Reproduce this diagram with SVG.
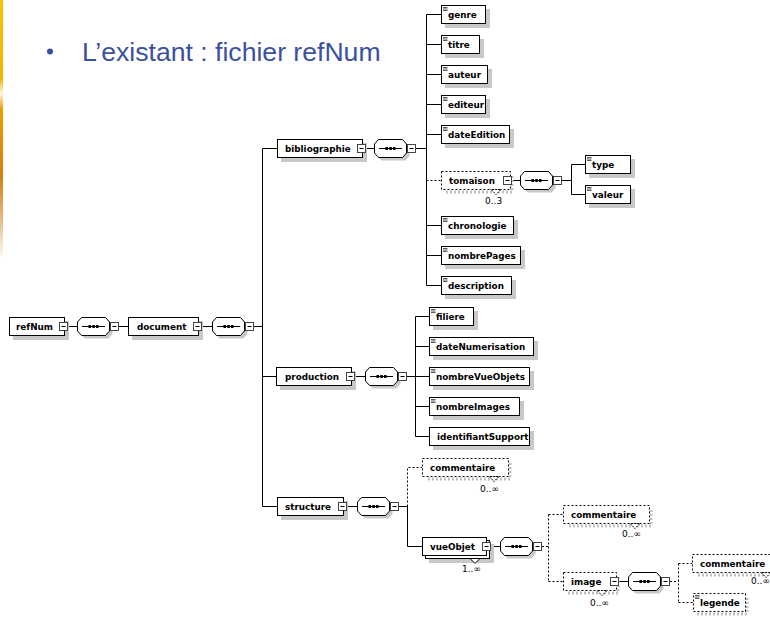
<svg xmlns="http://www.w3.org/2000/svg" xmlns:xlink="http://www.w3.org/1999/xlink" width="770" height="618" viewBox="0 0 770 618">
<defs>
<style>
.b{fill:#fff;stroke:#000}
.o{fill:#fff;stroke:#000;stroke-dasharray:2 2}
.s{fill:#c8c8c8}
.os{fill:none;stroke:#c0c0c0;stroke-width:3;stroke-dasharray:2 2}
.t{font-family:"DejaVu Sans","Liberation Sans",sans-serif;font-weight:bold;font-size:8.8px;fill:#000}
.n{font-family:"DejaVu Sans","Liberation Sans",sans-serif;font-size:9px;fill:#000}
.c{stroke:#000;fill:none}
.d{stroke-dasharray:2 2}
.mb{fill:#fff;stroke:#444}
.ic{stroke:#333;stroke-width:0.8;fill:none}
.nv{fill:#fff;stroke:#000}
.nvd{fill:#fff;stroke:#000;stroke-dasharray:2 1}
.title{font-family:"Liberation Sans",Arial,sans-serif;font-size:26.6px;fill:#3C50A0}
</style>
<linearGradient id="stripe" x1="0" y1="0" x2="0" y2="1">
<stop offset="0" stop-color="#F7C400"/>
<stop offset="0.3" stop-color="#F2B400"/>
<stop offset="0.36" stop-color="#FFF6DC"/>
<stop offset="0.42" stop-color="#EBA000"/>
<stop offset="0.68" stop-color="#D48010"/>
<stop offset="0.86" stop-color="#EBC090"/>
<stop offset="1" stop-color="#FFFFFF"/>
</linearGradient>
<g id="mn"><rect class="mb" x="0.5" y="-4" width="8" height="8"/><path class="c" d="M2.5 0H6.5"/></g>
<g id="sq"><polygon class="s" transform="translate(3,3)" points="0.5,-4.5 4.5,-9 28.5,-9 32.5,-4.5 32.5,4.5 28.5,9 4.5,9 0.5,4.5"/><polygon class="b" points="0.5,-4.5 4.5,-9 28.5,-9 32.5,-4.5 32.5,4.5 28.5,9 4.5,9 0.5,4.5"/><path class="c" d="M5 0H28"/><rect x="11.5" y="-1.5" width="2.5" height="3"/><rect x="15.3" y="-1.5" width="2.5" height="3"/><rect x="19" y="-1.5" width="2.5" height="3"/></g>
<path id="ic" class="ic" d="M2 -7H6.5M2 -5.5H6.5M2 -4H6.5"/>
</defs>
<rect width="770" height="618" fill="#fff"/>
<rect x="0" y="0" width="3" height="260" fill="url(#stripe)"/>
<g id="title">
<circle cx="50" cy="51.5" r="3" fill="#3C50A0"/>
<text class="title" x="82" y="61">L’existant : fichier refNum</text>
</g>
<g id="connectors">
<path class="c" d="M68 326.5H77M119 326.5H128M202 326.5H212M254 326.5H262.5"/>
<path class="c" d="M262.5 148.5V506.5M262.5 148.5H277M262.5 376.5H276M262.5 506.5H277"/>
<path class="c" d="M366 148.5H374M416 148.5H426.5M426.5 14.5V285.5"/>
<path class="c" d="M426.5 14.5H441M426.5 44.5H441M426.5 74.5H441M426.5 104.5H441M426.5 134.5H441M426.5 225.5H441M426.5 255.5H441M426.5 285.5H441"/>
<path class="c d" d="M426.5 180.5H441"/>
<path class="c" d="M512 180.5H520M562 180.5H571.5M571.5 164.5V194.5M571.5 164.5H585M571.5 194.5H585"/>
<path class="c" d="M355 376.5H365M407 376.5H415.5M415.5 316.5V436.5M415.5 316.5H429M415.5 346.5H429M415.5 376.5H429M415.5 406.5H429M415.5 436.5H429"/>
<path class="c" d="M347 506.5H357M399 506.5H407.5M407.5 506.5V546.5M407.5 546.5H422"/>
<path class="c d" d="M407.5 506.5V467.5H422"/>
<path class="c" d="M491 546.5H500"/>
<path class="c d" d="M542 546.5H548.5M548.5 514.5V581.5M548.5 514.5H563M548.5 581.5H563"/>
<path class="c" d="M619 581.5H628"/>
<path class="c d" d="M670 581.5H678.5M678.5 563.5V602.5M678.5 563.5H692M678.5 602.5H693"/>
</g>
<g id="refNum"><rect class="s" x="13" y="321" width="56" height="19"/><rect class="b" x="9.5" y="317.5" width="55" height="18"/><text class="t" x="16" y="329.5">refNum</text><use xlink:href="#mn" x="59" y="326.5"/></g>
<g id="seq-refNum"><use xlink:href="#sq" x="77" y="326.5"/><use xlink:href="#mn" x="110" y="326.5"/></g>
<g id="document"><rect class="s" x="132" y="321" width="71" height="19"/><rect class="b" x="128.5" y="317.5" width="70" height="18"/><text class="t" x="137" y="329.5">document</text><use xlink:href="#mn" x="193" y="326.5"/></g>
<g id="seq-document"><use xlink:href="#sq" x="212" y="326.5"/><use xlink:href="#mn" x="245" y="326.5"/></g>
<g id="bibliographie"><rect class="s" x="281" y="143" width="86" height="19"/><rect class="b" x="277.5" y="139.5" width="85" height="18"/><text class="t" x="285" y="151.5">bibliographie</text><use xlink:href="#mn" x="357" y="148.5"/></g>
<g id="seq-bibliographie"><use xlink:href="#sq" x="374" y="148.5"/><use xlink:href="#mn" x="407" y="148.5"/></g>
<g id="genre"><rect class="s" x="445" y="9" width="45" height="19"/><rect class="b" x="441.5" y="5.5" width="44" height="18"/><use xlink:href="#ic" x="441" y="14.5"/><text class="t" x="448" y="17.5">genre</text></g>
<g id="titre"><rect class="s" x="445" y="39" width="39" height="19"/><rect class="b" x="441.5" y="35.5" width="38" height="18"/><use xlink:href="#ic" x="441" y="44.5"/><text class="t" x="448" y="47.5">titre</text></g>
<g id="auteur"><rect class="s" x="445" y="69" width="47" height="19"/><rect class="b" x="441.5" y="65.5" width="46" height="18"/><use xlink:href="#ic" x="441" y="74.5"/><text class="t" x="448" y="77.5">auteur</text></g>
<g id="editeur"><rect class="s" x="445" y="99" width="45" height="19"/><rect class="b" x="441.5" y="95.5" width="44" height="18"/><use xlink:href="#ic" x="441" y="104.5"/><text class="t" x="448" y="107.5">editeur</text></g>
<g id="dateEdition"><rect class="s" x="445" y="129" width="69" height="19"/><rect class="b" x="441.5" y="125.5" width="68" height="18"/><use xlink:href="#ic" x="441" y="134.5"/><text class="t" x="448" y="137.5">dateEdition</text></g>
<g id="tomaison"><path class="os" d="M512 176V192H445"/><rect class="o" x="441.5" y="171.5" width="69" height="18"/><polygon class="nvd" points="491,189.5 496,194.5 501,189.5"/><text class="t" x="449" y="183.5">tomaison</text><use xlink:href="#mn" x="503" y="180.5"/><text class="n" x="485" y="204">0..3</text></g>
<g id="seq-tomaison"><use xlink:href="#sq" x="520" y="180.5"/><use xlink:href="#mn" x="553" y="180.5"/></g>
<g id="type"><rect class="s" x="589" y="159" width="46" height="19"/><rect class="b" x="585.5" y="155.5" width="45" height="18"/><use xlink:href="#ic" x="585" y="164.5"/><text class="t" x="592" y="167.5">type</text></g>
<g id="valeur"><rect class="s" x="589" y="189" width="46" height="19"/><rect class="b" x="585.5" y="185.5" width="45" height="18"/><use xlink:href="#ic" x="585" y="194.5"/><text class="t" x="592" y="197.5">valeur</text></g>
<g id="chronologie"><rect class="s" x="445" y="220" width="73" height="19"/><rect class="b" x="441.5" y="216.5" width="72" height="18"/><use xlink:href="#ic" x="441" y="225.5"/><text class="t" x="448" y="228.5">chronologie</text></g>
<g id="nombrePages"><rect class="s" x="445" y="250" width="80" height="19"/><rect class="b" x="441.5" y="246.5" width="79" height="18"/><use xlink:href="#ic" x="441" y="255.5"/><text class="t" x="448" y="258.5">nombrePages</text></g>
<g id="description"><rect class="s" x="445" y="280" width="71" height="19"/><rect class="b" x="441.5" y="276.5" width="70" height="18"/><use xlink:href="#ic" x="441" y="285.5"/><text class="t" x="448" y="288.5">description</text></g>
<g id="production"><rect class="s" x="280" y="371" width="76" height="19"/><rect class="b" x="276.5" y="367.5" width="75" height="18"/><text class="t" x="285" y="379.5">production</text><use xlink:href="#mn" x="346" y="376.5"/></g>
<g id="seq-production"><use xlink:href="#sq" x="365" y="376.5"/><use xlink:href="#mn" x="398" y="376.5"/></g>
<g id="filiere"><rect class="s" x="433" y="311" width="45" height="19"/><rect class="b" x="429.5" y="307.5" width="44" height="18"/><use xlink:href="#ic" x="429" y="316.5"/><text class="t" x="436" y="319.5">filiere</text></g>
<g id="dateNumerisation"><rect class="s" x="433" y="341" width="105" height="19"/><rect class="b" x="429.5" y="337.5" width="104" height="18"/><use xlink:href="#ic" x="429" y="346.5"/><text class="t" x="436" y="349.5">dateNumerisation</text></g>
<g id="nombreVueObjets"><rect class="s" x="433" y="371" width="101" height="19"/><rect class="b" x="429.5" y="367.5" width="100" height="18"/><use xlink:href="#ic" x="429" y="376.5"/><text class="t" x="436" y="379.5">nombreVueObjets</text></g>
<g id="nombreImages"><rect class="s" x="433" y="401" width="91" height="19"/><rect class="b" x="429.5" y="397.5" width="90" height="18"/><use xlink:href="#ic" x="429" y="406.5"/><text class="t" x="436" y="409.5">nombreImages</text></g>
<g id="identifiantSupport"><rect class="s" x="433" y="431" width="101" height="19"/><rect class="b" x="429.5" y="427.5" width="100" height="18"/><text class="t" x="437" y="439.5">identifiantSupport</text></g>
<g id="structure"><rect class="s" x="281" y="501" width="67" height="19"/><rect class="b" x="277.5" y="497.5" width="66" height="18"/><text class="t" x="285" y="509.5">structure</text><use xlink:href="#mn" x="338" y="506.5"/></g>
<g id="seq-structure"><use xlink:href="#sq" x="357" y="506.5"/><use xlink:href="#mn" x="390" y="506.5"/></g>
<g id="commentaire-structure"><path class="os" d="M510 463V479H426"/><rect class="o" x="422.5" y="458.5" width="86" height="18"/><polygon class="nvd" points="489,476.5 494,481.5 499,476.5"/><text class="t" x="430" y="470.5">commentaire</text><text class="n" x="480" y="492">0..∞</text></g>
<g id="vueObjet"><rect class="s" x="429" y="544" width="65" height="19"/><rect class="b" x="425.5" y="540.5" width="64" height="18"/><polygon class="nv" points="470,558.5 475,563.5 480,558.5"/><rect class="b" x="422.5" y="537.5" width="64" height="18"/><text class="t" x="430" y="549.5">vueObjet</text><use xlink:href="#mn" x="482" y="546.5"/><text class="n" x="462" y="572">1..∞</text></g>
<g id="seq-vueObjet"><use xlink:href="#sq" x="500" y="546.5"/><use xlink:href="#mn" x="533" y="546.5"/></g>
<g id="commentaire-vueObjet"><path class="os" d="M651 510V526H567"/><rect class="o" x="563.5" y="505.5" width="86" height="18"/><polygon class="nvd" points="630,523.5 635,528.5 640,523.5"/><text class="t" x="571" y="517.5">commentaire</text><text class="n" x="622" y="537">0..∞</text></g>
<g id="image"><path class="os" d="M618 577V593H567"/><rect class="o" x="563.5" y="572.5" width="53" height="18"/><polygon class="nvd" points="597,590.5 602,595.5 607,590.5"/><text class="t" x="571" y="584.5">image</text><use xlink:href="#mn" x="610" y="581.5"/><text class="n" x="590" y="606">0..∞</text></g>
<g id="seq-image"><use xlink:href="#sq" x="628" y="581.5"/><use xlink:href="#mn" x="661" y="581.5"/></g>
<g id="commentaire-image"><path class="os" d="M780 559V575H696"/><rect class="o" x="692.5" y="554.5" width="86" height="18"/><polygon class="nvd" points="761,572.5 766,577.5 771,572.5"/><text class="t" x="700" y="566.5">commentaire</text><text class="n" x="751" y="584">0..∞</text></g>
<g id="legende"><path class="os" d="M747 598V614H697"/><rect class="o" x="693.5" y="593.5" width="52" height="18"/><use xlink:href="#ic" x="693" y="602.5"/><text class="t" x="700" y="605.5">legende</text></g>
</svg>
